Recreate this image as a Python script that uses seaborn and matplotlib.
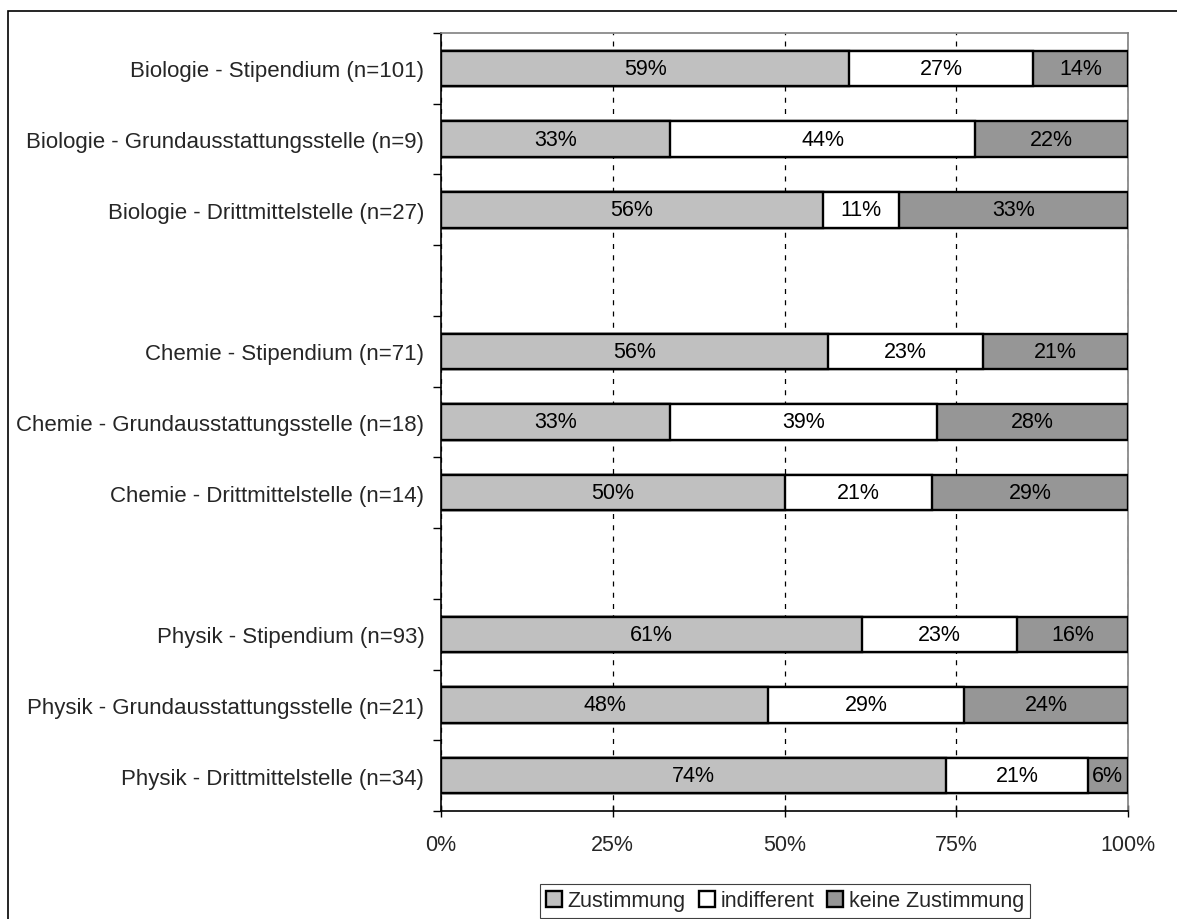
import numpy as np
import pandas as pd
import matplotlib.pyplot as plt
import seaborn as sns
from matplotlib.patches import Patch, Rectangle

faecher = ["Biologie", "Chemie", "Physik"]
stellen = ["Stipendium", "Grundausstattungsstelle", "Drittmittelstelle"]
n_werte = [101, 9, 27, 71, 18, 14, 93, 21, 34]
zustimmung = [59.41, 33.33, 55.56, 56.34, 33.33, 50.00, 61.29, 47.62, 73.53]
indifferent = [26.73, 44.44, 11.11, 22.54, 38.89, 21.43, 22.58, 28.57, 20.59]
keine_zustimmung = [13.86, 22.22, 33.33, 21.13, 27.78, 28.57, 16.13, 23.81, 5.88]
x_ticks = [0, 25, 50, 75, 100]
legend_labels = ["Zustimmung", "indifferent", "keine Zustimmung"]

farben = ["#C0C0C0", "#FFFFFF", "#969696"]

labels = [f"{f} - {s} (n={n})" for f, s, n in
          zip(np.repeat(faecher, len(stellen)), stellen * len(faecher), n_werte)]

df = pd.DataFrame({"label": labels, "zust": zustimmung,
                   "indiff": indifferent, "keine": keine_zustimmung})
df["bis_indiff"] = df["zust"] + df["indiff"]
df["gesamt"] = df["bis_indiff"] + df["keine"]

# category order with an empty row between the subjects
order = []
for i, f in enumerate(faecher):
    order += labels[i * 3:(i + 1) * 3]
    if i < len(faecher) - 1:
        order.append(" " * (i + 1))

sns.set_theme(style="white")
plt.rcParams["font.family"] = ["Liberation Sans", "DejaVu Sans"]
fs = 15.5
fs_y = 16

fig = plt.figure(figsize=(11.77, 9.2), dpi=100)
ax = fig.add_axes([441 / 1177, 1 - 812 / 920, (1128 - 441) / 1177, (812 - 34) / 920])

# stacked bars: draw cumulative totals back to front
for col, farbe in zip(["gesamt", "bis_indiff", "zust"], farben[::-1]):
    sns.barplot(data=df, y="label", x=col, order=order, orient="h",
                color=farbe, saturation=1, width=0.5,
                edgecolor="black", linewidth=1.7, ax=ax, zorder=3)

# value labels
for _, r in df.iterrows():
    y = order.index(r["label"])
    links = 0
    for val in [r["zust"], r["indiff"], r["keine"]]:
        ax.text(links + val / 2, y, f"{val:.0f}%", ha="center", va="center",
                fontsize=fs, color="black", zorder=5)
        links += val

ax.set_xlim(0, 100)
ax.set_ylim(len(order) - 0.5, -0.5)
ax.set_xlabel("")
ax.set_ylabel("")

ax.set_yticks(range(len(order)))
ax.set_yticklabels(order, fontsize=fs_y)
ax.set_yticks(np.arange(-0.5, len(order), 1), minor=True)
ax.tick_params(axis="y", which="major", length=0, pad=12)
ax.tick_params(axis="y", which="minor", left=True, length=6, width=1,
               color="black", direction="out")

ax.set_xticks(x_ticks)
ax.set_xticklabels([f"{t}%" for t in x_ticks], fontsize=fs)
ax.tick_params(axis="x", bottom=True, direction="inout", length=9, width=1,
               color="black", pad=12)

ax.xaxis.grid(True, linestyle=(0, (4, 5)), color="black", linewidth=0.9)
ax.yaxis.grid(False)
ax.set_axisbelow(True)

for s in ["top", "right"]:
    ax.spines[s].set_color("#808080")
    ax.spines[s].set_linewidth(1.2)
for s in ["left", "bottom"]:
    ax.spines[s].set_color("black")
    ax.spines[s].set_linewidth(1.2)

handles = [Patch(facecolor=c, edgecolor="black", linewidth=1.7) for c in farben]
leg = fig.legend(handles, legend_labels, loc="upper center",
                 bbox_to_anchor=(785 / 1177, 1 - 885 / 920), ncol=3,
                 frameon=True, fancybox=False, edgecolor="#404040", framealpha=1,
                 fontsize=fs, handlelength=0.75, handleheight=0.75,
                 handletextpad=0.25, columnspacing=0.6, borderpad=0.3,
                 borderaxespad=0)
leg.get_frame().set_linewidth(0.8)

# outer chart border (runs off the right/bottom edge like the original)
fig.add_artist(Rectangle((8 / 1177, -0.05), 1.1, 1 - 12 / 920 + 0.05,
                         transform=fig.transFigure, fill=False,
                         edgecolor="black", linewidth=1.2))

fig.savefig("out.png", dpi=100)
